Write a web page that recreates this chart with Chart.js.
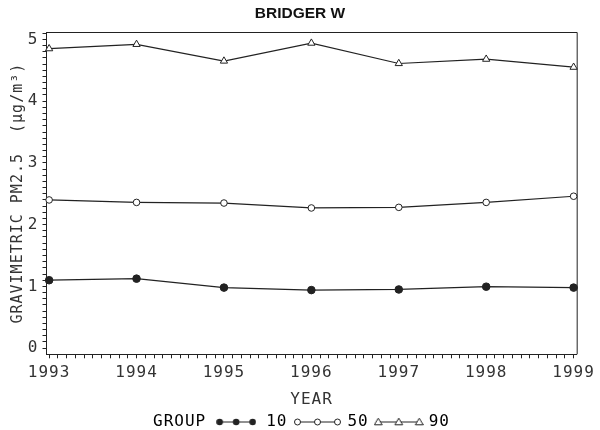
<!DOCTYPE html>
<html><head><meta charset="utf-8">
<script src="https://cdn.jsdelivr.net/npm/chart.js@4.4.1/dist/chart.umd.min.js"></script>
<style>html,body{margin:0;padding:0;background:#fff}#c{display:block}</style>
</head><body>
<canvas id="c" width="600" height="430"></canvas>
<script>
// ---- data ----
const years = [1993, 1994, 1995, 1996, 1997, 1998, 1999];
const group10 = [1.10, 1.125, 0.98, 0.94, 0.95, 0.995, 0.98];
const group50 = [2.40, 2.36, 2.35, 2.27, 2.28, 2.36, 2.46];
const group90 = [4.85, 4.92, 4.65, 4.94, 4.61, 4.68, 4.55];
const groupNames = ['10', '50', '90'];
const xTickLabels = ['1993', '1994', '1995', '1996', '1997', '1998', '1999'];
const yTickLabels = ['0', '1', '2', '3', '4', '5'];
const titleText = 'BRIDGER W';
const xTitle = 'YEAR';
const yTitle = 'GRAVIMETRIC PM2.5  (\u00B5g/m\u00B3)';
const legendTitle = 'GROUP';

// ---- styling ----
const INK = '#222';
const TXT = '#333';
const MONO = 'DejaVu Sans Mono';
const LS = '1px';
const LEG_DX = -14;
const LEG_DY = -4;
const TITLE_DX = 10.5;

// minor tick values (tenths) between the major ticks
const xMajor = years.slice();
const yMajor = yTickLabels.map(Number);
const xTickValues = [];
for (let j = 0; j <= 60; j++) xTickValues.push(1993 + j / 10);
const yTickValues = [];
for (let j = 0; j <= 51; j++) yTickValues.push(j / 10);

function majorLabel(v, values, labels) {
  for (let i = 0; i < values.length; i++) if (Math.abs(v - values[i]) < 1e-6) return labels[i];
  return '';
}

function makeMarkerImg(kind, width, inset) {
  const c = document.createElement('canvas');
  c.width = width; c.height = 12;
  const g = c.getContext('2d');
  const cy = 6;
  g.strokeStyle = INK; g.lineWidth = 1;
  const xs = [inset, width / 2, width - inset];
  g.beginPath(); g.moveTo(xs[0], cy); g.lineTo(xs[2], cy); g.stroke();
  xs.forEach(x => {
    g.beginPath();
    if (kind === 'filled') {
      g.arc(x, cy, 3.3, 0, Math.PI * 2); g.fillStyle = INK; g.fill();
    } else if (kind === 'open') {
      g.arc(x, cy, 3, 0, Math.PI * 2); g.fillStyle = '#fff'; g.fill(); g.stroke();
    } else {
      g.moveTo(x, cy - 3.8); g.lineTo(x + 3.9, cy + 2.8); g.lineTo(x - 3.9, cy + 2.8); g.closePath();
      g.fillStyle = '#fff'; g.fill(); g.stroke();
    }
  });
  return c;
}
const blankImg = document.createElement('canvas'); blankImg.width = 1; blankImg.height = 1;
const legendImgs = [makeMarkerImg('filled', 40, 3.5), makeMarkerImg('open', 47, 3.5), makeMarkerImg('tri', 50, 4.5)];

const pts = (arr) => years.map((yr, i) => ({ x: yr, y: arr[i] }));

const chartPlugin = {
  id: 'sasStyle',
  afterInit(chart) {
    const t = chart.titleBlock;
    if (t) {
      const o = t.draw.bind(t);
      t.draw = function (a) { const ctx = chart.ctx; ctx.save(); ctx.letterSpacing = '0px'; ctx.translate(TITLE_DX, 0); o(a); ctx.restore(); };
    }
    const lg = chart.legend;
    if (lg) {
      const o = lg.draw.bind(lg);
      lg.draw = function (a) { const ctx = chart.ctx; ctx.save(); ctx.translate(LEG_DX, LEG_DY); o(a); ctx.restore(); };
    }
  },
  beforeUpdate(chart) { chart.ctx.letterSpacing = LS; },
  beforeLayout(chart) { chart.ctx.letterSpacing = LS; },
  beforeDraw(chart) { chart.ctx.letterSpacing = LS; },
  beforeDatasetsDraw(chart) {
    const { ctx, chartArea: a } = chart;
    ctx.save();
    ctx.strokeStyle = INK; ctx.lineWidth = 1;
    ctx.beginPath();
    ctx.moveTo(a.left, a.top + 0.5); ctx.lineTo(a.right + 0.5, a.top + 0.5); ctx.lineTo(a.right + 0.5, a.bottom);
    ctx.stroke();
    ctx.restore();
  }
};

const lineDs = (label, arr, style, radius, bg) => ({
  label, data: pts(arr),
  borderColor: INK, borderWidth: 1.2, tension: 0,
  pointStyle: style, pointRadius: radius, pointHoverRadius: radius,
  pointBackgroundColor: bg, pointBorderColor: INK, pointBorderWidth: 1,
  clip: false
});

new Chart(document.getElementById('c'), {
  type: 'line',
  data: {
    datasets: [
      lineDs(groupNames[0], group10, 'circle', 3.8, INK),
      lineDs(groupNames[1], group50, 'circle', 3.3, '#fff'),
      lineDs(groupNames[2], group90, 'triangle', 4.2, '#fff')
    ]
  },
  plugins: [chartPlugin],
  options: {
    responsive: false,
    animation: false,
    devicePixelRatio: 1,
    layout: { padding: { left: 0, right: 21, top: 0, bottom: 0 } },
    plugins: {
      title: {
        display: true, text: titleText, color: '#111',
        font: { family: 'Liberation Sans', size: 15.5, weight: 'bold', lineHeight: 1.2 },
        padding: { top: 4.5, bottom: 8.9 }
      },
      legend: {
        position: 'bottom', align: 'center', maxHeight: 20,
        labels: {
          usePointStyle: true, pointStyleWidth: 44, boxHeight: 10, padding: 8,
          color: TXT, font: { family: MONO, size: 16 },
          generateLabels: () => [
            { text: legendTitle, pointStyle: blankImg, fillStyle: 'transparent', strokeStyle: 'transparent', lineWidth: 0, hidden: false, datasetIndex: -1 },
            ...groupNames.map((n, i) => ({ text: n, pointStyle: legendImgs[i], fillStyle: 'transparent', strokeStyle: 'transparent', lineWidth: 0, hidden: false, datasetIndex: i }))
          ]
        }
      },
      tooltip: { enabled: false }
    },
    scales: {
      x: {
        type: 'linear', min: 1992.97, max: 1999.035,
        afterBuildTicks: (s) => { s.ticks = xTickValues.map(v => ({ value: v })); },
        afterFit: (s) => { s.height = 55.7; },
        ticks: {
          autoSkip: false, maxRotation: 0, minRotation: 0, padding: 5, color: TXT,
          font: { family: MONO, size: 16 },
          callback: (v) => majorLabel(v, xMajor, xTickLabels)
        },
        grid: { drawOnChartArea: false, drawTicks: true, tickLength: 4, tickColor: INK, tickWidth: 1 },
        border: { display: true, color: INK, width: 1 },
        title: { display: true, text: xTitle, color: TXT, font: { family: MONO, size: 16 }, padding: { top: 0, bottom: 0.8 } }
      },
      y: {
        type: 'linear', min: -0.1, max: 5.12,
        afterBuildTicks: (s) => { s.ticks = yTickValues.map(v => ({ value: v })); },
        afterFit: (s) => { s.width = 46.5; },
        ticks: {
          autoSkip: false, padding: 4, color: TXT,
          font: { family: MONO, size: 16 },
          callback: (v) => majorLabel(v, yMajor, yTickLabels)
        },
        grid: { drawOnChartArea: false, drawTicks: true, tickLength: 4, tickColor: INK, tickWidth: 1 },
        border: { display: true, color: INK, width: 1 },
        title: { display: true, text: yTitle, color: TXT, font: { family: MONO, size: 15 }, padding: { top: 9, bottom: 0 } }
      }
    }
  }
});
</script>
</body></html>
